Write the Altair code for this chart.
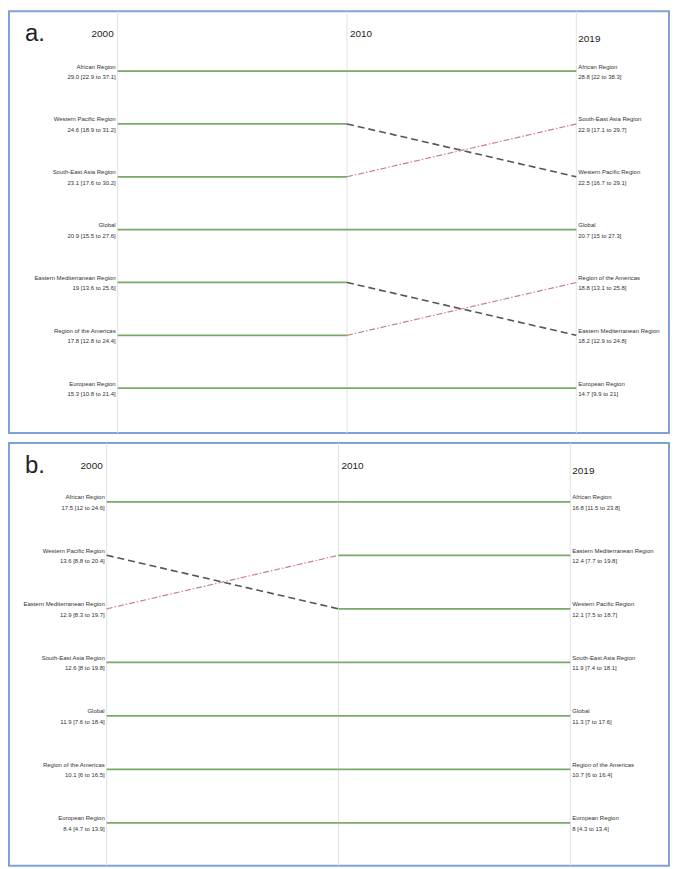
import altair as alt
import pandas as pd

years = ["2000", "2010", "2019"]
year_idx = [0, 1, 2]

# Panel a
regions_a = ["African Region", "Western Pacific Region", "South-East Asia Region", "Global",
             "Eastern Mediterranean Region", "Region of the Americas", "European Region"]
rank2000_a = [1, 2, 3, 4, 5, 6, 7]
rank2010_a = [1, 2, 3, 4, 5, 6, 7]
rank2019_a = [1, 3, 2, 4, 6, 5, 7]
val2000_a = ["29.0 [22.9 to 37.1]", "24.6 [18.9 to 31.2]", "23.1 [17.6 to 30.2]", "20.9 [15.5 to 27.6]",
             "19 [13.6 to 25.6]", "17.8 [12.8 to 24.4]", "15.3 [10.8 to 21.4]"]
val2019_a = ["28.8 [22 to 38.3]", "22.5 [16.7 to 29.1]", "22.9 [17.1 to 29.7]", "20.7 [15 to 27.3]",
             "18.2 [12.9 to 24.8]", "18.8 [13.1 to 25.8]", "14.7 [9.9 to 21]"]
style1_a = ["solid", "solid", "solid", "solid", "solid", "solid", "solid"]
style2_a = ["solid", "dashed", "dashdot", "solid", "dashed", "dashdot", "solid"]

# Panel b
regions_b = ["African Region", "Western Pacific Region", "Eastern Mediterranean Region", "South-East Asia Region",
             "Global", "Region of the Americas", "European Region"]
rank2000_b = [1, 2, 3, 4, 5, 6, 7]
rank2010_b = [1, 3, 2, 4, 5, 6, 7]
rank2019_b = [1, 3, 2, 4, 5, 6, 7]
val2000_b = ["17.5 [12 to 24.6]", "13.6 [8.8 to 20.4]", "12.9 [8.3 to 19.7]", "12.6 [8 to 19.8]",
             "11.9 [7.6 to 18.4]", "10.1 [6 to 16.5]", "8.4 [4.7 to 13.9]"]
val2019_b = ["16.8 [11.5 to 23.8]", "12.1 [7.5 to 18.7]", "12.4 [7.7 to 19.8]", "11.9 [7.4 to 18.1]",
             "11.3 [7 to 17.6]", "10.7 [6 to 16.4]", "8 [4.3 to 13.4]"]
style1_b = ["solid", "dashed", "dashdot", "solid", "solid", "solid", "solid"]
style2_b = ["solid", "solid", "solid", "solid", "solid", "solid", "solid"]

FONT = "Liberation Sans"
GREEN = "#78a86a"


def panel(letter, regions, r0, r1, r2, v0, v2, s1, s2, xdom, ydom, height, yr_y):
    xs = alt.Scale(domain=xdom, nice=False, zero=False)
    ys = alt.Scale(domain=ydom, nice=False, zero=False)
    seg_rows = []
    for i, reg in enumerate(regions):
        seg_rows.append(dict(region=reg, x0=0, x1=1, y0=r0[i], y1=r1[i], style=s1[i]))
        seg_rows.append(dict(region=reg, x0=1, x1=2, y0=r1[i], y1=r2[i], style=s2[i]))
    seg = pd.DataFrame(seg_rows)
    yr = pd.DataFrame({"idx": year_idx, "year": years})
    left = pd.DataFrame({"idx": [0] * len(regions), "rank": r0, "name": regions, "val": v0})
    right = pd.DataFrame({"idx": [2] * len(regions), "rank": r2, "name": regions, "val": v2})

    X = lambda f: alt.X(f, type="quantitative", scale=xs, axis=None)
    Y = lambda f: alt.Y(f, type="quantitative", scale=ys, axis=None)

    guides = alt.Chart(yr).mark_rule(color="#e2e2e2", strokeWidth=1).encode(x=X("idx"))

    def seg_layer(style, **kw):
        return alt.Chart(seg).transform_filter(alt.datum.style == style).mark_rule(**kw).encode(
            x=X("x0"), x2="x1", y=Y("y0"), y2="y1")

    solid = seg_layer("solid", color=GREEN, strokeWidth=1.8)
    dashed = seg_layer("dashed", color="#555555", strokeWidth=1.6, strokeDash=[7, 4])
    dashdot = seg_layer("dashdot", color="#c98088", strokeWidth=1.2, strokeDash=[6, 2, 1.5, 2])

    def lab(df, align, dx):
        base = alt.Chart(df)
        n = base.mark_text(align=align, dx=dx, dy=-4.5, fontSize=6, font=FONT, color="#333333").encode(
            x=X("idx"), y=Y("rank"), text="name:N")
        v = base.mark_text(align=align, dx=dx, dy=6, fontSize=6, font=FONT, color="#333333").encode(
            x=X("idx"), y=Y("rank"), text="val:N")
        return n + v

    yl0 = alt.Chart(yr).transform_filter(alt.datum.idx == 0).mark_text(
        align="right", dx=-4, baseline="middle", fontSize=10, font=FONT, color="#222").encode(
        x=X("idx"), y=alt.value(yr_y[0]), text="year:N")
    yl1 = alt.Chart(yr).transform_filter(alt.datum.idx == 1).mark_text(
        align="left", dx=3, baseline="middle", fontSize=10, font=FONT, color="#222").encode(
        x=X("idx"), y=alt.value(yr_y[1]), text="year:N")
    yl2 = alt.Chart(yr).transform_filter(alt.datum.idx == 2).mark_text(
        align="left", dx=2, baseline="middle", fontSize=10, font=FONT, color="#222").encode(
        x=X("idx"), y=alt.value(yr_y[2]), text="year:N")

    let = alt.Chart(pd.DataFrame({"letter": [letter]})).mark_text(
        align="left", baseline="middle", fontSize=24, font=FONT, color="#222").encode(
        x=alt.value(16), y=alt.value(yr_y[0]), text="letter:N")

    return alt.layer(guides, solid, dashed, dashdot, lab(left, "right", -2), lab(right, "left", 2),
                     yl0, yl1, yl2, let).properties(width=662, height=height)


pa = panel("a.", regions_a, rank2000_a, rank2010_a, rank2019_a, val2000_a, val2019_a, style1_a, style2_a,
           [-0.4739, 2.4043], [7.849, -0.132], 423, [23, 23, 28])
pb = panel("b.", regions_b, rank2000_b, rank2010_b, rank2019_b, val2000_b, val2019_b, style1_b, style2_b,
           [-0.4215, 2.4258], [7.801, -0.099], 424, [23, 23, 28])

chart = alt.vconcat(pa, pb, spacing=6).properties(padding=0).configure_view(
    stroke="#7fa2d6", strokeWidth=2)

chart.save("out.html", embed_options={"renderer": "svg", "actions": False})
